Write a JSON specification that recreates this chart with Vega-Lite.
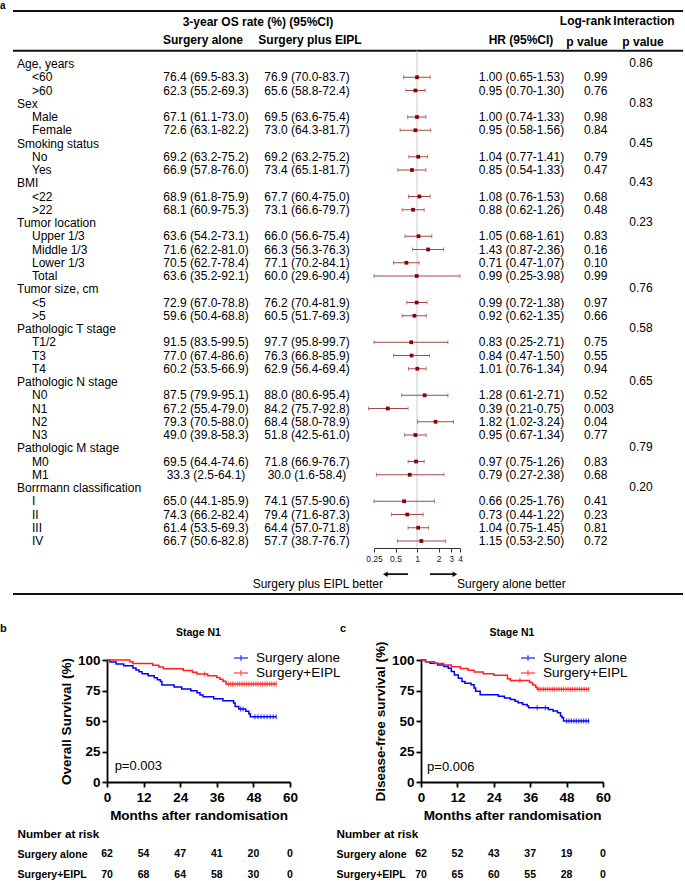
{
"$schema": "https://vega.github.io/schema/vega-lite/v6.json",
"padding": 0,
"background": "white",
"config": {"font": "Liberation Sans", "view": {"stroke": null}, "text": {"fontSize": 12, "color": "black"}, "axis": {"labelOverlap": false}},
"datasets": {
"forest": [
{"row":0,"label":"Age, years","level":"group","inter":"0.86"},
{"row":1,"label":"<60","level":"item","alone":"76.4 (69.5-83.3)","plus":"76.9 (70.0-83.7)","hr":1.00,"lo":0.65,"hi":1.53,"hrtext":"1.00 (0.65-1.53)","p":"0.99"},
{"row":2,"label":">60","level":"item","alone":"62.3 (55.2-69.3)","plus":"65.6 (58.8-72.4)","hr":0.95,"lo":0.70,"hi":1.30,"hrtext":"0.95 (0.70-1.30)","p":"0.76"},
{"row":3,"label":"Sex","level":"group","inter":"0.83"},
{"row":4,"label":"Male","level":"item","alone":"67.1 (61.1-73.0)","plus":"69.5 (63.6-75.4)","hr":1.00,"lo":0.74,"hi":1.33,"hrtext":"1.00 (0.74-1.33)","p":"0.98"},
{"row":5,"label":"Female","level":"item","alone":"72.6 (63.1-82.2)","plus":"73.0 (64.3-81.7)","hr":0.95,"lo":0.58,"hi":1.56,"hrtext":"0.95 (0.58-1.56)","p":"0.84"},
{"row":6,"label":"Smoking status","level":"group","inter":"0.45"},
{"row":7,"label":"No","level":"item","alone":"69.2 (63.2-75.2)","plus":"69.2 (63.2-75.2)","hr":1.04,"lo":0.77,"hi":1.41,"hrtext":"1.04 (0.77-1.41)","p":"0.79"},
{"row":8,"label":"Yes","level":"item","alone":"66.9 (57.8-76.0)","plus":"73.4 (65.1-81.7)","hr":0.85,"lo":0.54,"hi":1.33,"hrtext":"0.85 (0.54-1.33)","p":"0.47"},
{"row":9,"label":"BMI","level":"group","inter":"0.43"},
{"row":10,"label":"<22","level":"item","alone":"68.9 (61.8-75.9)","plus":"67.7 (60.4-75.0)","hr":1.08,"lo":0.76,"hi":1.53,"hrtext":"1.08 (0.76-1.53)","p":"0.68"},
{"row":11,"label":">22","level":"item","alone":"68.1 (60.9-75.3)","plus":"73.1 (66.6-79.7)","hr":0.88,"lo":0.62,"hi":1.26,"hrtext":"0.88 (0.62-1.26)","p":"0.48"},
{"row":12,"label":"Tumor location","level":"group","inter":"0.23"},
{"row":13,"label":"Upper 1/3","level":"item","alone":"63.6 (54.2-73.1)","plus":"66.0 (56.6-75.4)","hr":1.05,"lo":0.68,"hi":1.61,"hrtext":"1.05 (0.68-1.61)","p":"0.83"},
{"row":14,"label":"Middle 1/3","level":"item","alone":"71.6 (62.2-81.0)","plus":"66.3 (56.3-76.3)","hr":1.43,"lo":0.87,"hi":2.36,"hrtext":"1.43 (0.87-2.36)","p":"0.16"},
{"row":15,"label":"Lower 1/3","level":"item","alone":"70.5 (62.7-78.4)","plus":"77.1 (70.2-84.1)","hr":0.71,"lo":0.47,"hi":1.07,"hrtext":"0.71 (0.47-1.07)","p":"0.10"},
{"row":16,"label":"Total","level":"item","alone":"63.6 (35.2-92.1)","plus":"60.0 (29.6-90.4)","hr":0.99,"lo":0.25,"hi":3.98,"hrtext":"0.99 (0.25-3.98)","p":"0.99"},
{"row":17,"label":"Tumor size, cm","level":"group","inter":"0.76"},
{"row":18,"label":"<5","level":"item","alone":"72.9 (67.0-78.8)","plus":"76.2 (70.4-81.9)","hr":0.99,"lo":0.72,"hi":1.38,"hrtext":"0.99 (0.72-1.38)","p":"0.97"},
{"row":19,"label":">5","level":"item","alone":"59.6 (50.4-68.8)","plus":"60.5 (51.7-69.3)","hr":0.92,"lo":0.62,"hi":1.35,"hrtext":"0.92 (0.62-1.35)","p":"0.66"},
{"row":20,"label":"Pathologic T stage","level":"group","inter":"0.58"},
{"row":21,"label":"T1/2","level":"item","alone":"91.5 (83.5-99.5)","plus":"97.7 (95.8-99.7)","hr":0.83,"lo":0.25,"hi":2.71,"hrtext":"0.83 (0.25-2.71)","p":"0.75"},
{"row":22,"label":"T3","level":"item","alone":"77.0 (67.4-86.6)","plus":"76.3 (66.8-85.9)","hr":0.84,"lo":0.47,"hi":1.50,"hrtext":"0.84 (0.47-1.50)","p":"0.55"},
{"row":23,"label":"T4","level":"item","alone":"60.2 (53.5-66.9)","plus":"62.9 (56.4-69.4)","hr":1.01,"lo":0.76,"hi":1.34,"hrtext":"1.01 (0.76-1.34)","p":"0.94"},
{"row":24,"label":"Pathologic N stage","level":"group","inter":"0.65"},
{"row":25,"label":"N0","level":"item","alone":"87.5 (79.9-95.1)","plus":"88.0 (80.6-95.4)","hr":1.28,"lo":0.61,"hi":2.71,"hrtext":"1.28 (0.61-2.71)","p":"0.52"},
{"row":26,"label":"N1","level":"item","alone":"67.2 (55.4-79.0)","plus":"84.2 (75.7-92.8)","hr":0.39,"lo":0.21,"hi":0.75,"hrtext":"0.39 (0.21-0.75)","p":"0.003"},
{"row":27,"label":"N2","level":"item","alone":"79.3 (70.5-88.0)","plus":"68.4 (58.0-78.9)","hr":1.82,"lo":1.02,"hi":3.24,"hrtext":"1.82 (1.02-3.24)","p":"0.04"},
{"row":28,"label":"N3","level":"item","alone":"49.0 (39.8-58.3)","plus":"51.8 (42.5-61.0)","hr":0.95,"lo":0.67,"hi":1.34,"hrtext":"0.95 (0.67-1.34)","p":"0.77"},
{"row":29,"label":"Pathologic M stage","level":"group","inter":"0.79"},
{"row":30,"label":"M0","level":"item","alone":"69.5 (64.4-74.6)","plus":"71.8 (66.9-76.7)","hr":0.97,"lo":0.75,"hi":1.26,"hrtext":"0.97 (0.75-1.26)","p":"0.83"},
{"row":31,"label":"M1","level":"item","alone":"33.3 (2.5-64.1)","plus":"30.0 (1.6-58.4)","hr":0.79,"lo":0.27,"hi":2.38,"hrtext":"0.79 (0.27-2.38)","p":"0.68"},
{"row":32,"label":"Borrmann classification","level":"group","inter":"0.20"},
{"row":33,"label":"I","level":"item","alone":"65.0 (44.1-85.9)","plus":"74.1 (57.5-90.6)","hr":0.66,"lo":0.25,"hi":1.76,"hrtext":"0.66 (0.25-1.76)","p":"0.41"},
{"row":34,"label":"II","level":"item","alone":"74.3 (66.2-82.4)","plus":"79.4 (71.6-87.3)","hr":0.73,"lo":0.44,"hi":1.22,"hrtext":"0.73 (0.44-1.22)","p":"0.23"},
{"row":35,"label":"III","level":"item","alone":"61.4 (53.5-69.3)","plus":"64.4 (57.0-71.8)","hr":1.04,"lo":0.75,"hi":1.45,"hrtext":"1.04 (0.75-1.45)","p":"0.81"},
{"row":36,"label":"IV","level":"item","alone":"66.7 (50.6-82.8)","plus":"57.7 (38.7-76.7)","hr":1.15,"lo":0.53,"hi":2.50,"hrtext":"1.15 (0.53-2.50)","p":"0.72"}
],
"os": [
{"group":"Surgery alone","month":0,"surv":100},{"group":"Surgery alone","month":1,"surv":98.4},{"group":"Surgery alone","month":3,"surv":96.8},{"group":"Surgery alone","month":5.5,"surv":95.2},{"group":"Surgery alone","month":8.5,"surv":93.5},{"group":"Surgery alone","month":9.5,"surv":91.9},{"group":"Surgery alone","month":10.5,"surv":90.3},{"group":"Surgery alone","month":11.5,"surv":88.7},{"group":"Surgery alone","month":13.5,"surv":87.1},{"group":"Surgery alone","month":15.5,"surv":85.5},{"group":"Surgery alone","month":16.5,"surv":83.9},{"group":"Surgery alone","month":17.5,"surv":82.3},{"group":"Surgery alone","month":18,"surv":79.5},{"group":"Surgery alone","month":22,"surv":77.9},{"group":"Surgery alone","month":24.5,"surv":76.3},{"group":"Surgery alone","month":27.5,"surv":74.7},{"group":"Surgery alone","month":29.5,"surv":73.1},{"group":"Surgery alone","month":30.5,"surv":71.4},{"group":"Surgery alone","month":31.5,"surv":69.8},{"group":"Surgery alone","month":35,"surv":68.2},{"group":"Surgery alone","month":38,"surv":66.6},{"group":"Surgery alone","month":41.5,"surv":64.8},{"group":"Surgery alone","month":42,"surv":61.8},{"group":"Surgery alone","month":43.2,"surv":59.8},{"group":"Surgery alone","month":45.5,"surv":58},{"group":"Surgery alone","month":46.5,"surv":56},{"group":"Surgery alone","month":47,"surv":53.4},{"group":"Surgery alone","month":55.5,"surv":53.4},
{"group":"Surgery+EIPL","month":0,"surv":100},{"group":"Surgery+EIPL","month":7.5,"surv":98.6},{"group":"Surgery+EIPL","month":8.5,"surv":97.1},{"group":"Surgery+EIPL","month":15,"surv":95.7},{"group":"Surgery+EIPL","month":17,"surv":94.3},{"group":"Surgery+EIPL","month":18.5,"surv":92.9},{"group":"Surgery+EIPL","month":25,"surv":91.4},{"group":"Surgery+EIPL","month":28,"surv":90},{"group":"Surgery+EIPL","month":29.5,"surv":88.6},{"group":"Surgery+EIPL","month":33,"surv":87.1},{"group":"Surgery+EIPL","month":36,"surv":85.7},{"group":"Surgery+EIPL","month":37,"surv":84.2},{"group":"Surgery+EIPL","month":38,"surv":82.5},{"group":"Surgery+EIPL","month":39,"surv":80.3},{"group":"Surgery+EIPL","month":55.5,"surv":80.3}
],
"osc": [
{"group":"Surgery alone","month":43.8,"surv":59.8},{"group":"Surgery alone","month":44.6,"surv":59.8},{"group":"Surgery alone","month":48.5,"surv":53.4},{"group":"Surgery alone","month":49.5,"surv":53.4},{"group":"Surgery alone","month":50.5,"surv":53.4},{"group":"Surgery alone","month":51.5,"surv":53.4},{"group":"Surgery alone","month":52.5,"surv":53.4},{"group":"Surgery alone","month":53.5,"surv":53.4},{"group":"Surgery alone","month":54.5,"surv":53.4},{"group":"Surgery alone","month":55.5,"surv":53.4},
{"group":"Surgery+EIPL","month":32,"surv":88.6},{"group":"Surgery+EIPL","month":39.8,"surv":80.3},{"group":"Surgery+EIPL","month":40.5,"surv":80.3},{"group":"Surgery+EIPL","month":41.2,"surv":80.3},{"group":"Surgery+EIPL","month":42,"surv":80.3},{"group":"Surgery+EIPL","month":42.8,"surv":80.3},{"group":"Surgery+EIPL","month":43.5,"surv":80.3},{"group":"Surgery+EIPL","month":44.3,"surv":80.3},{"group":"Surgery+EIPL","month":45,"surv":80.3},{"group":"Surgery+EIPL","month":45.8,"surv":80.3},{"group":"Surgery+EIPL","month":46.5,"surv":80.3},{"group":"Surgery+EIPL","month":47.3,"surv":80.3},{"group":"Surgery+EIPL","month":48,"surv":80.3},{"group":"Surgery+EIPL","month":48.8,"surv":80.3},{"group":"Surgery+EIPL","month":49.5,"surv":80.3},{"group":"Surgery+EIPL","month":50.3,"surv":80.3},{"group":"Surgery+EIPL","month":51,"surv":80.3},{"group":"Surgery+EIPL","month":51.8,"surv":80.3},{"group":"Surgery+EIPL","month":52.5,"surv":80.3},{"group":"Surgery+EIPL","month":53.3,"surv":80.3},{"group":"Surgery+EIPL","month":54,"surv":80.3},{"group":"Surgery+EIPL","month":54.8,"surv":80.3},{"group":"Surgery+EIPL","month":55.5,"surv":80.3}
],
"dfs": [
{"group":"Surgery alone","month":0,"surv":100},{"group":"Surgery alone","month":1.5,"surv":98.6},{"group":"Surgery alone","month":3,"surv":97.3},{"group":"Surgery alone","month":5.5,"surv":96},{"group":"Surgery alone","month":7.5,"surv":94.6},{"group":"Surgery alone","month":9,"surv":93.2},{"group":"Surgery alone","month":10,"surv":90.5},{"group":"Surgery alone","month":11,"surv":87.8},{"group":"Surgery alone","month":12.3,"surv":85.1},{"group":"Surgery alone","month":13.5,"surv":82.4},{"group":"Surgery alone","month":14.5,"surv":81},{"group":"Surgery alone","month":16.5,"surv":79.7},{"group":"Surgery alone","month":17.5,"surv":77},{"group":"Surgery alone","month":18,"surv":74.3},{"group":"Surgery alone","month":19.5,"surv":71.6},{"group":"Surgery alone","month":25.5,"surv":70.3},{"group":"Surgery alone","month":27.5,"surv":68.9},{"group":"Surgery alone","month":29.5,"surv":67.6},{"group":"Surgery alone","month":31,"surv":66.2},{"group":"Surgery alone","month":32,"surv":64.9},{"group":"Surgery alone","month":33.5,"surv":63.5},{"group":"Surgery alone","month":35,"surv":62.2},{"group":"Surgery alone","month":35.5,"surv":60.8},{"group":"Surgery alone","month":42,"surv":59.5},{"group":"Surgery alone","month":43.5,"surv":58.1},{"group":"Surgery alone","month":45,"surv":56.8},{"group":"Surgery alone","month":46,"surv":54.1},{"group":"Surgery alone","month":46.5,"surv":52.7},{"group":"Surgery alone","month":47,"surv":50},{"group":"Surgery alone","month":55.5,"surv":50},
{"group":"Surgery+EIPL","month":0,"surv":100},{"group":"Surgery+EIPL","month":1.5,"surv":98.6},{"group":"Surgery+EIPL","month":4.5,"surv":97.2},{"group":"Surgery+EIPL","month":7.5,"surv":95.8},{"group":"Surgery+EIPL","month":10,"surv":94.4},{"group":"Surgery+EIPL","month":13,"surv":93},{"group":"Surgery+EIPL","month":15.5,"surv":91.6},{"group":"Surgery+EIPL","month":17.5,"surv":90.2},{"group":"Surgery+EIPL","month":20.5,"surv":88.8},{"group":"Surgery+EIPL","month":24,"surv":87.4},{"group":"Surgery+EIPL","month":28.5,"surv":84.6},{"group":"Surgery+EIPL","month":29.5,"surv":83.2},{"group":"Surgery+EIPL","month":35.8,"surv":81.5},{"group":"Surgery+EIPL","month":36.8,"surv":79.5},{"group":"Surgery+EIPL","month":37.8,"surv":77.6},{"group":"Surgery+EIPL","month":38.3,"surv":76},{"group":"Surgery+EIPL","month":55.5,"surv":76}
],
"dfsc": [
{"group":"Surgery alone","month":38.3,"surv":60.8},{"group":"Surgery alone","month":41,"surv":60.8},{"group":"Surgery alone","month":48,"surv":50},{"group":"Surgery alone","month":48.8,"surv":50},{"group":"Surgery alone","month":49.6,"surv":50},{"group":"Surgery alone","month":50.4,"surv":50},{"group":"Surgery alone","month":51.2,"surv":50},{"group":"Surgery alone","month":52,"surv":50},{"group":"Surgery alone","month":52.8,"surv":50},{"group":"Surgery alone","month":53.6,"surv":50},{"group":"Surgery alone","month":54.4,"surv":50},{"group":"Surgery alone","month":55.2,"surv":50},
{"group":"Surgery+EIPL","month":32.6,"surv":83.2},{"group":"Surgery+EIPL","month":38.8,"surv":76},{"group":"Surgery+EIPL","month":39.5,"surv":76},{"group":"Surgery+EIPL","month":40.3,"surv":76},{"group":"Surgery+EIPL","month":41,"surv":76},{"group":"Surgery+EIPL","month":41.8,"surv":76},{"group":"Surgery+EIPL","month":42.5,"surv":76},{"group":"Surgery+EIPL","month":43.3,"surv":76},{"group":"Surgery+EIPL","month":44,"surv":76},{"group":"Surgery+EIPL","month":44.8,"surv":76},{"group":"Surgery+EIPL","month":45.5,"surv":76},{"group":"Surgery+EIPL","month":46.3,"surv":76},{"group":"Surgery+EIPL","month":47,"surv":76},{"group":"Surgery+EIPL","month":47.8,"surv":76},{"group":"Surgery+EIPL","month":48.5,"surv":76},{"group":"Surgery+EIPL","month":49.3,"surv":76},{"group":"Surgery+EIPL","month":50,"surv":76},{"group":"Surgery+EIPL","month":50.8,"surv":76},{"group":"Surgery+EIPL","month":51.5,"surv":76},{"group":"Surgery+EIPL","month":52.3,"surv":76},{"group":"Surgery+EIPL","month":53,"surv":76},{"group":"Surgery+EIPL","month":53.8,"surv":76},{"group":"Surgery+EIPL","month":54.5,"surv":76},{"group":"Surgery+EIPL","month":55.3,"surv":76}
],
"riskB": [
{"group":"Surgery alone","month":0,"n":62},{"group":"Surgery alone","month":12,"n":54},{"group":"Surgery alone","month":24,"n":47},{"group":"Surgery alone","month":36,"n":41},{"group":"Surgery alone","month":48,"n":20},{"group":"Surgery alone","month":60,"n":0},
{"group":"Surgery+EIPL","month":0,"n":70},{"group":"Surgery+EIPL","month":12,"n":68},{"group":"Surgery+EIPL","month":24,"n":64},{"group":"Surgery+EIPL","month":36,"n":58},{"group":"Surgery+EIPL","month":48,"n":30},{"group":"Surgery+EIPL","month":60,"n":0}
],
"riskC": [
{"group":"Surgery alone","month":0,"n":62},{"group":"Surgery alone","month":12,"n":52},{"group":"Surgery alone","month":24,"n":43},{"group":"Surgery alone","month":36,"n":37},{"group":"Surgery alone","month":48,"n":19},{"group":"Surgery alone","month":60,"n":0},
{"group":"Surgery+EIPL","month":0,"n":70},{"group":"Surgery+EIPL","month":12,"n":65},{"group":"Surgery+EIPL","month":24,"n":60},{"group":"Surgery+EIPL","month":36,"n":55},{"group":"Surgery+EIPL","month":48,"n":28},{"group":"Surgery+EIPL","month":60,"n":0}
]
},
"vconcat": [
{
"hconcat": [
{"width":147,"height":595,"data":{"name":"forest"},"layer":[
{"data":{"values":[{}]},"mark":{"type":"rule","strokeWidth":2,"color":"#111"},"encoding":{"y":{"datum":-4,"type":"quantitative","scale":{"domain":[-4.755,40.15],"reverse":true,"nice":false,"zero":false},"axis":null}}},
{"data":{"values":[{}]},"mark":{"type":"rule","strokeWidth":2,"color":"#111"},"encoding":{"y":{"datum":-1,"type":"quantitative","scale":{"domain":[-4.755,40.15],"reverse":true,"nice":false,"zero":false},"axis":null}}},
{"data":{"values":[{}]},"mark":{"type":"rule","strokeWidth":2,"color":"#111"},"encoding":{"y":{"datum":40,"type":"quantitative","scale":{"domain":[-4.755,40.15],"reverse":true,"nice":false,"zero":false},"axis":null}}},
{"data":{"values":[{}]},"mark":{"type":"text","text":"a","fontWeight":"bold","fontSize":10,"align":"left","dx":-13},"encoding":{"x":{"value":0},"y":{"datum":-4.4,"type":"quantitative","scale":{"domain":[-4.755,40.15],"reverse":true,"nice":false,"zero":false},"axis":null}}},
{"transform":[{"filter":"datum.level == 'group'"}],"mark":{"type":"text","align":"left","dx":4},"encoding":{"x":{"value":0},"y":{"field":"row","type":"quantitative","scale":{"domain":[-4.755,40.15],"reverse":true,"nice":false,"zero":false},"axis":null},"text":{"field":"label"}}},
{"transform":[{"filter":"datum.level == 'item'"}],"mark":{"type":"text","align":"left","dx":19},"encoding":{"x":{"value":0},"y":{"field":"row","type":"quantitative","scale":{"domain":[-4.755,40.15],"reverse":true,"nice":false,"zero":false},"axis":null},"text":{"field":"label"}}}
]},
{"width":92,"height":595,"data":{"name":"forest"},"layer":[
{"data":{"values":[{}]},"mark":{"type":"rule","strokeWidth":2,"color":"#111"},"encoding":{"y":{"datum":-4,"type":"quantitative","scale":{"domain":[-4.755,40.15],"reverse":true,"nice":false,"zero":false},"axis":null}}},
{"data":{"values":[{}]},"mark":{"type":"rule","strokeWidth":2,"color":"#111"},"encoding":{"y":{"datum":-1,"type":"quantitative","scale":{"domain":[-4.755,40.15],"reverse":true,"nice":false,"zero":false},"axis":null}}},
{"data":{"values":[{}]},"mark":{"type":"rule","strokeWidth":2,"color":"#111"},"encoding":{"y":{"datum":40,"type":"quantitative","scale":{"domain":[-4.755,40.15],"reverse":true,"nice":false,"zero":false},"axis":null}}},
{"data":{"values":[{}]},"mark":{"type":"text","text":"Surgery alone","fontWeight":"bold","dx":-3,"dy":2.5},"encoding":{"y":{"datum":-2,"type":"quantitative","scale":{"domain":[-4.755,40.15],"reverse":true,"nice":false,"zero":false},"axis":null}}},
{"transform":[{"filter":"datum.level == 'item'"}],"mark":{"type":"text"},"encoding":{"y":{"field":"row","type":"quantitative","scale":{"domain":[-4.755,40.15],"reverse":true,"nice":false,"zero":false},"axis":null},"text":{"field":"alone"}}}
]},
{"width":122,"height":595,"data":{"name":"forest"},"layer":[
{"data":{"values":[{}]},"mark":{"type":"rule","strokeWidth":2,"color":"#111"},"encoding":{"y":{"datum":-4,"type":"quantitative","scale":{"domain":[-4.755,40.15],"reverse":true,"nice":false,"zero":false},"axis":null}}},
{"data":{"values":[{}]},"mark":{"type":"rule","strokeWidth":2,"color":"#111"},"encoding":{"y":{"datum":-1,"type":"quantitative","scale":{"domain":[-4.755,40.15],"reverse":true,"nice":false,"zero":false},"axis":null}}},
{"data":{"values":[{}]},"mark":{"type":"rule","strokeWidth":2,"color":"#111"},"encoding":{"y":{"datum":40,"type":"quantitative","scale":{"domain":[-4.755,40.15],"reverse":true,"nice":false,"zero":false},"axis":null}}},
{"data":{"values":[{}]},"mark":{"type":"text","text":"3-year OS rate (%) (95%CI)","fontWeight":"bold","dx":-55,"dy":-2},"encoding":{"y":{"datum":-3,"type":"quantitative","scale":{"domain":[-4.755,40.15],"reverse":true,"nice":false,"zero":false},"axis":null}}},
{"data":{"values":[{}]},"mark":{"type":"text","text":"Surgery plus EIPL","fontWeight":"bold","dx":-3,"dy":2.5},"encoding":{"y":{"datum":-2,"type":"quantitative","scale":{"domain":[-4.755,40.15],"reverse":true,"nice":false,"zero":false},"axis":null}}},
{"transform":[{"filter":"datum.level == 'item'"}],"mark":{"type":"text","dx":-6},"encoding":{"y":{"field":"row","type":"quantitative","scale":{"domain":[-4.755,40.15],"reverse":true,"nice":false,"zero":false},"axis":null},"text":{"field":"plus"}}}
]},
{"width":86,"height":595,"data":{"name":"forest"},"layer":[
{"data":{"values":[{}]},"mark":{"type":"rule","strokeWidth":2,"color":"#111"},"encoding":{"y":{"datum":-4,"type":"quantitative","scale":{"domain":[-4.755,40.15],"reverse":true,"nice":false,"zero":false},"axis":null}}},
{"data":{"values":[{}]},"mark":{"type":"rule","strokeWidth":2,"color":"#111"},"encoding":{"y":{"datum":-1,"type":"quantitative","scale":{"domain":[-4.755,40.15],"reverse":true,"nice":false,"zero":false},"axis":null}}},
{"data":{"values":[{}]},"mark":{"type":"rule","strokeWidth":2,"color":"#111"},"encoding":{"y":{"datum":40,"type":"quantitative","scale":{"domain":[-4.755,40.15],"reverse":true,"nice":false,"zero":false},"axis":null}}},
{"data":{"values":[{}]},"mark":{"type":"rule","color":"#c8c8c8","strokeWidth":1},"encoding":{"x":{"datum":1,"type":"quantitative","scale":{"type":"log","domain":[0.25,4],"nice":false},"axis":{"values":[0.25,0.5,1,2,3,4],"title":null,"offset":-48,"labelFontSize":8.5,"labelColor":"#222","tickSize":4,"tickColor":"#333","domainColor":"#333","domainWidth":1,"labelPadding":2,"grid":false,"labelExpr":"datum.value","labelFlush":false,"labelOverlap":false}},"y":{"datum":-1,"type":"quantitative","scale":{"domain":[-4.755,40.15],"reverse":true,"nice":false,"zero":false},"axis":null},"y2":{"datum":36.5}}},
{"transform":[{"filter":"datum.level == 'item'"}],"mark":{"type":"rule","color":"#a04848","strokeWidth":1},"encoding":{"x":{"field":"lo","type":"quantitative","scale":{"type":"log","domain":[0.25,4],"nice":false},"axis":{"values":[0.25,0.5,1,2,3,4],"title":null,"offset":-48,"labelFontSize":8.5,"labelColor":"#222","tickSize":4,"tickColor":"#333","domainColor":"#333","domainWidth":1,"labelPadding":2,"grid":false,"labelExpr":"datum.value","labelFlush":false,"labelOverlap":false}},"x2":{"field":"hi"},"y":{"field":"row","type":"quantitative","scale":{"domain":[-4.755,40.15],"reverse":true,"nice":false,"zero":false},"axis":null}}},
{"transform":[{"filter":"datum.level == 'item'"}],"mark":{"type":"tick","orient":"vertical","color":"#a04848","size":4,"thickness":1},"encoding":{"x":{"field":"lo","type":"quantitative","scale":{"type":"log","domain":[0.25,4],"nice":false},"axis":{"values":[0.25,0.5,1,2,3,4],"title":null,"offset":-48,"labelFontSize":8.5,"labelColor":"#222","tickSize":4,"tickColor":"#333","domainColor":"#333","domainWidth":1,"labelPadding":2,"grid":false,"labelExpr":"datum.value","labelFlush":false,"labelOverlap":false}},"y":{"field":"row","type":"quantitative","scale":{"domain":[-4.755,40.15],"reverse":true,"nice":false,"zero":false},"axis":null}}},
{"transform":[{"filter":"datum.level == 'item'"}],"mark":{"type":"tick","orient":"vertical","color":"#a04848","size":4,"thickness":1},"encoding":{"x":{"field":"hi","type":"quantitative","scale":{"type":"log","domain":[0.25,4],"nice":false},"axis":{"values":[0.25,0.5,1,2,3,4],"title":null,"offset":-48,"labelFontSize":8.5,"labelColor":"#222","tickSize":4,"tickColor":"#333","domainColor":"#333","domainWidth":1,"labelPadding":2,"grid":false,"labelExpr":"datum.value","labelFlush":false,"labelOverlap":false}},"y":{"field":"row","type":"quantitative","scale":{"domain":[-4.755,40.15],"reverse":true,"nice":false,"zero":false},"axis":null}}},
{"transform":[{"filter":"datum.level == 'item'"}],"mark":{"type":"point","shape":"square","filled":true,"color":"#8b0000","size":14,"opacity":1},"encoding":{"x":{"field":"hr","type":"quantitative","scale":{"type":"log","domain":[0.25,4],"nice":false},"axis":{"values":[0.25,0.5,1,2,3,4],"title":null,"offset":-48,"labelFontSize":8.5,"labelColor":"#222","tickSize":4,"tickColor":"#333","domainColor":"#333","domainWidth":1,"labelPadding":2,"grid":false,"labelExpr":"datum.value","labelFlush":false,"labelOverlap":false}},"y":{"field":"row","type":"quantitative","scale":{"domain":[-4.755,40.15],"reverse":true,"nice":false,"zero":false},"axis":null}}},
{"data":{"values":[{}]},"mark":{"type":"rule","strokeWidth":1.8,"color":"#111"},"encoding":{"x":{"datum":0.75,"type":"quantitative"},"x2":{"datum":0.37},"y":{"datum":38.5,"type":"quantitative"}}},
{"data":{"values":[{}]},"mark":{"type":"rule","strokeWidth":1.8,"color":"#111"},"encoding":{"x":{"datum":1.52,"type":"quantitative"},"x2":{"datum":3.35},"y":{"datum":38.5,"type":"quantitative"}}},
{"data":{"values":[{}]},"mark":{"type":"point","shape":"triangle-left","filled":true,"color":"#111","size":30,"opacity":1},"encoding":{"x":{"datum":0.36,"type":"quantitative"},"y":{"datum":38.5,"type":"quantitative"}}},
{"data":{"values":[{}]},"mark":{"type":"point","shape":"triangle-right","filled":true,"color":"#111","size":30,"opacity":1},"encoding":{"x":{"datum":3.4,"type":"quantitative"},"y":{"datum":38.5,"type":"quantitative"}}},
{"data":{"values":[{}]},"mark":{"type":"text","text":"Surgery plus EIPL better","align":"right"},"encoding":{"x":{"datum":0.334,"type":"quantitative"},"y":{"datum":39.25,"type":"quantitative"}}},
{"data":{"values":[{}]},"mark":{"type":"text","text":"Surgery alone better","align":"left"},"encoding":{"x":{"datum":3.63,"type":"quantitative"},"y":{"datum":39.25,"type":"quantitative"}}}
]},
{"width":115,"height":595,"data":{"name":"forest"},"layer":[
{"data":{"values":[{}]},"mark":{"type":"rule","strokeWidth":2,"color":"#111"},"encoding":{"y":{"datum":-4,"type":"quantitative","scale":{"domain":[-4.755,40.15],"reverse":true,"nice":false,"zero":false},"axis":null}}},
{"data":{"values":[{}]},"mark":{"type":"rule","strokeWidth":2,"color":"#111"},"encoding":{"y":{"datum":-1,"type":"quantitative","scale":{"domain":[-4.755,40.15],"reverse":true,"nice":false,"zero":false},"axis":null}}},
{"data":{"values":[{}]},"mark":{"type":"rule","strokeWidth":2,"color":"#111"},"encoding":{"y":{"datum":40,"type":"quantitative","scale":{"domain":[-4.755,40.15],"reverse":true,"nice":false,"zero":false},"axis":null}}},
{"data":{"values":[{}]},"mark":{"type":"text","text":"HR (95%CI)","fontWeight":"bold","dx":3.5,"dy":2.5},"encoding":{"y":{"datum":-2,"type":"quantitative","scale":{"domain":[-4.755,40.15],"reverse":true,"nice":false,"zero":false},"axis":null}}},
{"transform":[{"filter":"datum.level == 'item'"}],"mark":{"type":"text","dx":4},"encoding":{"y":{"field":"row","type":"quantitative","scale":{"domain":[-4.755,40.15],"reverse":true,"nice":false,"zero":false},"axis":null},"text":{"field":"hrtext"}}}
]},
{"width":40,"height":595,"data":{"name":"forest"},"layer":[
{"data":{"values":[{}]},"mark":{"type":"rule","strokeWidth":2,"color":"#111"},"encoding":{"y":{"datum":-4,"type":"quantitative","scale":{"domain":[-4.755,40.15],"reverse":true,"nice":false,"zero":false},"axis":null}}},
{"data":{"values":[{}]},"mark":{"type":"rule","strokeWidth":2,"color":"#111"},"encoding":{"y":{"datum":-1,"type":"quantitative","scale":{"domain":[-4.755,40.15],"reverse":true,"nice":false,"zero":false},"axis":null}}},
{"data":{"values":[{}]},"mark":{"type":"rule","strokeWidth":2,"color":"#111"},"encoding":{"y":{"datum":40,"type":"quantitative","scale":{"domain":[-4.755,40.15],"reverse":true,"nice":false,"zero":false},"axis":null}}},
{"data":{"values":[{}]},"mark":{"type":"text","text":"Log-rank","fontWeight":"bold","dx":-9.5,"dy":-3},"encoding":{"y":{"datum":-3,"type":"quantitative","scale":{"domain":[-4.755,40.15],"reverse":true,"nice":false,"zero":false},"axis":null}}},
{"data":{"values":[{}]},"mark":{"type":"text","text":"p value","fontWeight":"bold","dx":-8,"dy":4.5},"encoding":{"y":{"datum":-2,"type":"quantitative","scale":{"domain":[-4.755,40.15],"reverse":true,"nice":false,"zero":false},"axis":null}}},
{"transform":[{"filter":"datum.level == 'item'"}],"mark":{"type":"text","align":"left","dx":-11},"encoding":{"y":{"field":"row","type":"quantitative","scale":{"domain":[-4.755,40.15],"reverse":true,"nice":false,"zero":false},"axis":null},"text":{"field":"p"}}}
]},
{"width":68,"height":595,"data":{"name":"forest"},"layer":[
{"data":{"values":[{}]},"mark":{"type":"rule","strokeWidth":2,"color":"#111"},"encoding":{"y":{"datum":-4,"type":"quantitative","scale":{"domain":[-4.755,40.15],"reverse":true,"nice":false,"zero":false},"axis":null}}},
{"data":{"values":[{}]},"mark":{"type":"rule","strokeWidth":2,"color":"#111"},"encoding":{"y":{"datum":-1,"type":"quantitative","scale":{"domain":[-4.755,40.15],"reverse":true,"nice":false,"zero":false},"axis":null}}},
{"data":{"values":[{}]},"mark":{"type":"rule","strokeWidth":2,"color":"#111"},"encoding":{"y":{"datum":40,"type":"quantitative","scale":{"domain":[-4.755,40.15],"reverse":true,"nice":false,"zero":false},"axis":null}}},
{"data":{"values":[{}]},"mark":{"type":"text","text":"Interaction","fontWeight":"bold","dx":-5,"dy":-3},"encoding":{"y":{"datum":-3,"type":"quantitative","scale":{"domain":[-4.755,40.15],"reverse":true,"nice":false,"zero":false},"axis":null}}},
{"data":{"values":[{}]},"mark":{"type":"text","text":"p value","fontWeight":"bold","dx":-6,"dy":4.5},"encoding":{"y":{"datum":-2,"type":"quantitative","scale":{"domain":[-4.755,40.15],"reverse":true,"nice":false,"zero":false},"axis":null}}},
{"transform":[{"filter":"datum.level == 'group'"}],"mark":{"type":"text","dx":-8,"dy":-1},"encoding":{"y":{"field":"row","type":"quantitative","scale":{"domain":[-4.755,40.15],"reverse":true,"nice":false,"zero":false},"axis":null},"text":{"field":"inter"}}}
]}
],
"spacing": 0,
"bounds": "flush"
},
{
"vconcat": [
{"hconcat": [
{"width":94,"height":122,"data":{"values":[{}]},"mark":{"type":"point","opacity":0}},
{"width":183,"height":122,"layer":[
{"data":{"name":"os"},"mark":{"type":"line","interpolate":"step-after","strokeWidth":1.5},"encoding":{
"x":{"field":"month","type":"quantitative","scale":{"domain":[0,60],"nice":false},"axis":{"values":[0,12,24,36,48,60],"title":"Months after randomisation","titleFontSize":13.5,"titleFontWeight":"bold","titleColor":"black","titlePadding":5,"labelFontSize":13.5,"labelFontWeight":"bold","labelColor":"black","labelPadding":3,"tickSize":5,"tickWidth":1.8,"tickColor":"black","domainColor":"black","domainWidth":1.8,"grid":false,"labelFlush":false,"labelOverlap":false}},
"y":{"field":"surv","type":"quantitative","scale":{"domain":[0,100],"nice":false},"axis":{"values":[0,25,50,75,100],"title":"Overall Survival (%)","titleFontSize":13.5,"titleFontWeight":"bold","titleColor":"black","titlePadding":4,"labelFontSize":13.5,"labelFontWeight":"bold","labelColor":"black","labelPadding":2,"tickSize":5,"tickWidth":1.8,"tickColor":"black","domainColor":"black","domainWidth":1.8,"grid":false,"labelFlush":false,"labelOverlap":false}},
"color":{"field":"group","type":"nominal","scale":{"domain":["Surgery alone","Surgery+EIPL"],"range":["#0000ff","#ff2020"]},"legend":{"title":null,"orient":"none","legendX":126,"legendY":-10,"symbolType":"M-1,0L1,0M0,-0.4L0,0.4","symbolSize":196,"symbolStrokeWidth":1.5,"labelFontSize":13.5,"labelOffset":7,"rowPadding":-0.5,"padding":0,"labelColor":"black"}}}},
{"data":{"name":"osc"},"mark":{"type":"tick","orient":"vertical","size":5,"thickness":1.2},"encoding":{
"x":{"field":"month","type":"quantitative","scale":{"domain":[0,60],"nice":false},"axis":{"values":[0,12,24,36,48,60],"title":"Months after randomisation","titleFontSize":13.5,"titleFontWeight":"bold","titleColor":"black","titlePadding":5,"labelFontSize":13.5,"labelFontWeight":"bold","labelColor":"black","labelPadding":3,"tickSize":5,"tickWidth":1.8,"tickColor":"black","domainColor":"black","domainWidth":1.8,"grid":false,"labelFlush":false,"labelOverlap":false}},
"y":{"field":"surv","type":"quantitative","scale":{"domain":[0,100],"nice":false},"axis":{"values":[0,25,50,75,100],"title":"Overall Survival (%)","titleFontSize":13.5,"titleFontWeight":"bold","titleColor":"black","titlePadding":4,"labelFontSize":13.5,"labelFontWeight":"bold","labelColor":"black","labelPadding":2,"tickSize":5,"tickWidth":1.8,"tickColor":"black","domainColor":"black","domainWidth":1.8,"grid":false,"labelFlush":false,"labelOverlap":false}},
"color":{"field":"group","type":"nominal","scale":{"domain":["Surgery alone","Surgery+EIPL"],"range":["#0000ff","#ff2020"]},"legend":{"title":null,"orient":"none","legendX":126,"legendY":-10,"symbolType":"M-1,0L1,0M0,-0.4L0,0.4","symbolSize":196,"symbolStrokeWidth":1.5,"labelFontSize":13.5,"labelOffset":7,"rowPadding":-0.5,"padding":0,"labelColor":"black"}}}},
{"data":{"values":[{}]},"mark":{"type":"text","text":"p=0.003","fontSize":13,"align":"left"},"encoding":{
"x":{"datum":2.5,"type":"quantitative","scale":{"domain":[0,60],"nice":false},"axis":{"values":[0,12,24,36,48,60],"title":"Months after randomisation","titleFontSize":13.5,"titleFontWeight":"bold","titleColor":"black","titlePadding":5,"labelFontSize":13.5,"labelFontWeight":"bold","labelColor":"black","labelPadding":3,"tickSize":5,"tickWidth":1.8,"tickColor":"black","domainColor":"black","domainWidth":1.8,"grid":false,"labelFlush":false,"labelOverlap":false}},
"y":{"datum":13,"type":"quantitative","scale":{"domain":[0,100],"nice":false},"axis":{"values":[0,25,50,75,100],"title":"Overall Survival (%)","titleFontSize":13.5,"titleFontWeight":"bold","titleColor":"black","titlePadding":4,"labelFontSize":13.5,"labelFontWeight":"bold","labelColor":"black","labelPadding":2,"tickSize":5,"tickWidth":1.8,"tickColor":"black","domainColor":"black","domainWidth":1.8,"grid":false,"labelFlush":false,"labelOverlap":false}}}},
{"data":{"values":[{}]},"mark":{"type":"text","text":"b","fontWeight":"bold","fontSize":11,"align":"left","dx":-107,"dy":-31},"encoding":{"x":{"value":0},"y":{"value":0}}},
{"data":{"values":[{}]},"mark":{"type":"text","text":"Stage N1","fontWeight":"bold","fontSize":10.5,"dy":-27},"encoding":{"y":{"value":0}}}
]},
{"width":131,"height":122,"data":{"values":[{}]},"mark":{"type":"point","opacity":0}},
{"width":182,"height":122,"layer":[
{"data":{"name":"dfs"},"mark":{"type":"line","interpolate":"step-after","strokeWidth":1.5},"encoding":{
"x":{"field":"month","type":"quantitative","scale":{"domain":[0,60],"nice":false},"axis":{"values":[0,12,24,36,48,60],"title":"Months after randomisation","titleFontSize":13.5,"titleFontWeight":"bold","titleColor":"black","titlePadding":5,"labelFontSize":13.5,"labelFontWeight":"bold","labelColor":"black","labelPadding":3,"tickSize":5,"tickWidth":1.8,"tickColor":"black","domainColor":"black","domainWidth":1.8,"grid":false,"labelFlush":false,"labelOverlap":false}},
"y":{"field":"surv","type":"quantitative","scale":{"domain":[0,100],"nice":false},"axis":{"values":[0,25,50,75,100],"title":"Disease-free survival (%)","titleFontSize":13.5,"titleFontWeight":"bold","titleColor":"black","titlePadding":4,"labelFontSize":13.5,"labelFontWeight":"bold","labelColor":"black","labelPadding":2,"tickSize":5,"tickWidth":1.8,"tickColor":"black","domainColor":"black","domainWidth":1.8,"grid":false,"labelFlush":false,"labelOverlap":false}},
"color":{"field":"group","type":"nominal","scale":{"domain":["Surgery alone","Surgery+EIPL"],"range":["#0000ff","#ff2020"]},"legend":{"title":null,"orient":"none","legendX":99,"legendY":-10,"symbolType":"M-1,0L1,0M0,-0.4L0,0.4","symbolSize":196,"symbolStrokeWidth":1.5,"labelFontSize":13.5,"labelOffset":7,"rowPadding":-0.5,"padding":0,"labelColor":"black"}}}},
{"data":{"name":"dfsc"},"mark":{"type":"tick","orient":"vertical","size":5,"thickness":1.2},"encoding":{
"x":{"field":"month","type":"quantitative","scale":{"domain":[0,60],"nice":false},"axis":{"values":[0,12,24,36,48,60],"title":"Months after randomisation","titleFontSize":13.5,"titleFontWeight":"bold","titleColor":"black","titlePadding":5,"labelFontSize":13.5,"labelFontWeight":"bold","labelColor":"black","labelPadding":3,"tickSize":5,"tickWidth":1.8,"tickColor":"black","domainColor":"black","domainWidth":1.8,"grid":false,"labelFlush":false,"labelOverlap":false}},
"y":{"field":"surv","type":"quantitative","scale":{"domain":[0,100],"nice":false},"axis":{"values":[0,25,50,75,100],"title":"Disease-free survival (%)","titleFontSize":13.5,"titleFontWeight":"bold","titleColor":"black","titlePadding":4,"labelFontSize":13.5,"labelFontWeight":"bold","labelColor":"black","labelPadding":2,"tickSize":5,"tickWidth":1.8,"tickColor":"black","domainColor":"black","domainWidth":1.8,"grid":false,"labelFlush":false,"labelOverlap":false}},
"color":{"field":"group","type":"nominal","scale":{"domain":["Surgery alone","Surgery+EIPL"],"range":["#0000ff","#ff2020"]},"legend":{"title":null,"orient":"none","legendX":99,"legendY":-10,"symbolType":"M-1,0L1,0M0,-0.4L0,0.4","symbolSize":196,"symbolStrokeWidth":1.5,"labelFontSize":13.5,"labelOffset":7,"rowPadding":-0.5,"padding":0,"labelColor":"black"}}}},
{"data":{"values":[{}]},"mark":{"type":"text","text":"p=0.006","fontSize":13,"align":"left"},"encoding":{
"x":{"datum":2,"type":"quantitative","scale":{"domain":[0,60],"nice":false},"axis":{"values":[0,12,24,36,48,60],"title":"Months after randomisation","titleFontSize":13.5,"titleFontWeight":"bold","titleColor":"black","titlePadding":5,"labelFontSize":13.5,"labelFontWeight":"bold","labelColor":"black","labelPadding":3,"tickSize":5,"tickWidth":1.8,"tickColor":"black","domainColor":"black","domainWidth":1.8,"grid":false,"labelFlush":false,"labelOverlap":false}},
"y":{"datum":12,"type":"quantitative","scale":{"domain":[0,100],"nice":false},"axis":{"values":[0,25,50,75,100],"title":"Disease-free survival (%)","titleFontSize":13.5,"titleFontWeight":"bold","titleColor":"black","titlePadding":4,"labelFontSize":13.5,"labelFontWeight":"bold","labelColor":"black","labelPadding":2,"tickSize":5,"tickWidth":1.8,"tickColor":"black","domainColor":"black","domainWidth":1.8,"grid":false,"labelFlush":false,"labelOverlap":false}}}},
{"data":{"values":[{}]},"mark":{"type":"text","text":"c","fontWeight":"bold","fontSize":11,"align":"left","dx":-81,"dy":-31},"encoding":{"x":{"value":0},"y":{"value":0}}},
{"data":{"values":[{}]},"mark":{"type":"text","text":"Stage N1","fontWeight":"bold","fontSize":10.5,"dy":-27},"encoding":{"y":{"value":0}}}
]}
], "spacing": 0, "bounds": "flush", "resolve": {"scale": {"color": "independent"}, "legend": {"color": "independent"}}},
{"hconcat": [
{"width":94,"height":54,"data":{"values":[{}]},"mark":{"type":"point","opacity":0}},
{"width":183,"height":54,"data":{"name":"riskB"},"mark":{"type":"text","fontWeight":"bold","fontSize":10.5},"encoding":{
"x":{"field":"month","type":"quantitative","scale":{"domain":[0,60],"nice":false},"axis":null},
"y":{"field":"group","type":"nominal","scale":{"type":"point","domain":["Number at risk","Surgery alone","Surgery+EIPL"],"padding":0.3},"axis":{"title":null,"domain":false,"ticks":false,"labelAlign":"left","labelPadding":90,"labelFontWeight":"bold","labelFontSize":{"condition":{"test":"datum.value === 'Number at risk'","value":11.7},"value":10.5},"labelColor":"black"}},
"text":{"field":"n"}}},
{"width":131,"height":54,"data":{"values":[{}]},"mark":{"type":"point","opacity":0}},
{"width":182,"height":54,"data":{"name":"riskC"},"mark":{"type":"text","fontWeight":"bold","fontSize":10.5},"encoding":{
"x":{"field":"month","type":"quantitative","scale":{"domain":[0,60],"nice":false},"axis":null},
"y":{"field":"group","type":"nominal","scale":{"type":"point","domain":["Number at risk","Surgery alone","Surgery+EIPL"],"padding":0.3},"axis":{"title":null,"domain":false,"ticks":false,"labelAlign":"left","labelPadding":85,"labelFontWeight":"bold","labelFontSize":{"condition":{"test":"datum.value === 'Number at risk'","value":11.7},"value":10.5},"labelColor":"black"}},
"text":{"field":"n"}}}
], "spacing": 0, "bounds": "flush"}
],
"spacing": 5,
"resolve": {"scale": {"color": "independent"}, "legend": {"color": "independent"}}
}
],
"spacing": 27,
"resolve": {"scale": {"color": "independent"}, "legend": {"color": "independent"}}
}
